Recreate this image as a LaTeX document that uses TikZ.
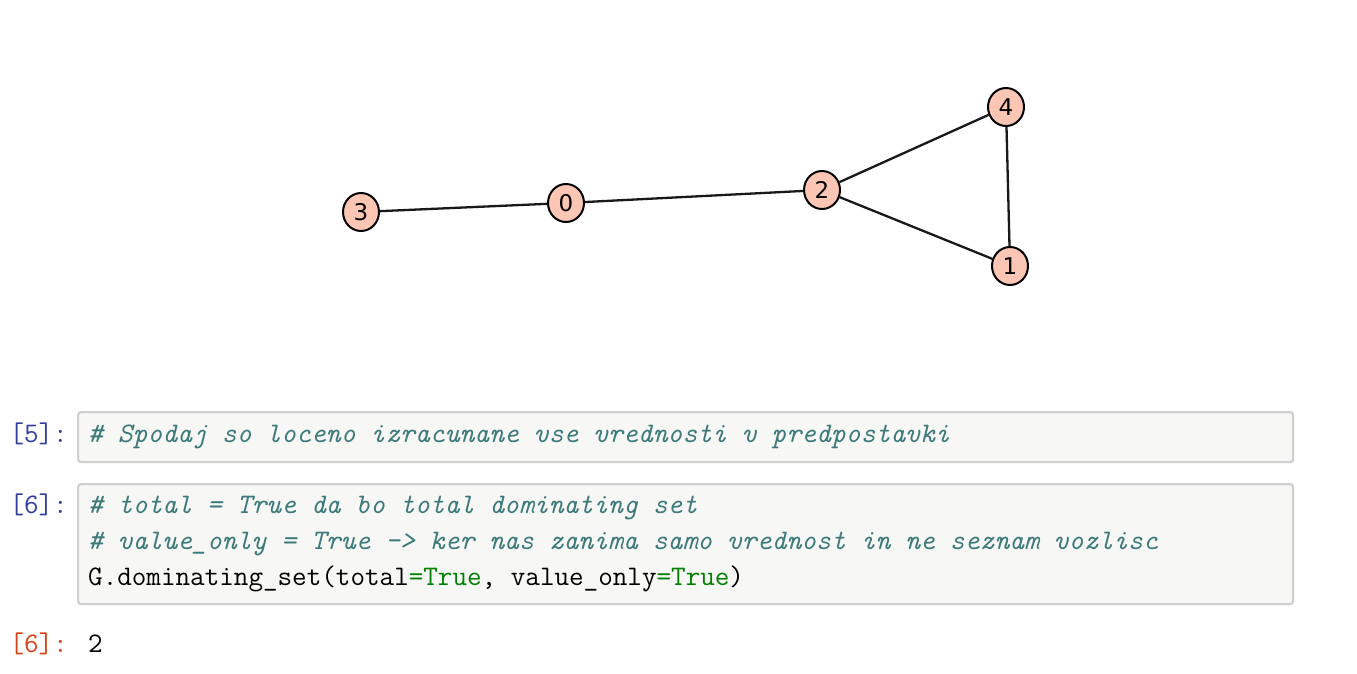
\documentclass[tikz,border=0pt]{standalone}
\usepackage{fontspec}
\usetikzlibrary{shapes.geometric}
\newfontfamily\nodefont{DejaVu Sans}
\definecolor{nodefill}{RGB}{252,197,180}
\definecolor{promptin}{RGB}{48,63,159}
\definecolor{promptout}{RGB}{216,67,21}
\definecolor{cmt}{RGB}{61,122,122}
\definecolor{kw}{RGB}{0,128,0}
\definecolor{cellborder}{RGB}{207,207,207}
\definecolor{cellfill}{RGB}{247,247,245}
\tikzset{
  vtx/.style={ellipse, draw=black, line width=2pt, fill=nodefill, minimum width=36pt, minimum height=38pt, inner sep=0pt, font=\nodefont\fontsize{23}{23}\selectfont},
  edge/.style={draw=black!90, line width=2.3pt},
  cell/.style={draw=cellborder, line width=2.2pt, fill=cellfill, rounded corners=3pt},
  codetxt/.style={anchor=base west, inner sep=0pt, font=\ttfamily\fontsize{28.3}{36}\selectfont},
  prompt/.style={anchor=base east, inner sep=0pt, font=\ttfamily\fontsize{28.3}{36}\selectfont},
}
\begin{document}
\begin{tikzpicture}[x=1pt,y=-1pt]
\useasboundingbox (0,0) rectangle (1357,674);
\fill[white] (0,0) rectangle (1357,674);
% graph
\node[vtx] (n3) at (361,212) {3};
\node[vtx] (n0) at (566,203) {0};
\node[vtx] (n2) at (822,190) {2};
\node[vtx] (n4) at (1006,107) {4};
\node[vtx] (n1) at (1010,266) {1};
\draw[edge] (n3) -- (n0);
\draw[edge] (n0) -- (n2);
\draw[edge] (n2) -- (n4);
\draw[edge] (n2) -- (n1);
\draw[edge] (n4) -- (n1);
% cell 5
\node[cell, minimum width=1215pt, minimum height=50pt, anchor=north west, inner sep=0pt] (c5) at (77,411) {};
\node[prompt, text=promptin] (p5) at (68,442) {[5]:};
\node[codetxt, text=cmt] (t5) at (88,442) {\itshape \# Spodaj so loceno izracunane vse vrednosti v predpostavki};
% cell 6
\node[cell, minimum width=1215pt, minimum height=120pt, anchor=north west, inner sep=0pt] (c6) at (77,483) {};
\node[prompt, text=promptin] (p6) at (68,513) {[6]:};
\node[codetxt, text=cmt] (t6a) at (88,513) {\itshape \# total = True da bo total dominating set};
\node[codetxt, text=cmt] (t6b) at (88,549) {\itshape \# value\_only = True -> ker nas zanima samo vrednost in ne seznam vozlisc};
\node[codetxt] (t6c) at (88,585) {G.dominating\_set(total{\color{kw}=True}, value\_only{\color{kw}=True})};
% output 6
\node[prompt, text=promptout] (o6) at (68,652) {[6]:};
\node[codetxt] (r6) at (88,652) {2};
\end{tikzpicture}
\end{document}
